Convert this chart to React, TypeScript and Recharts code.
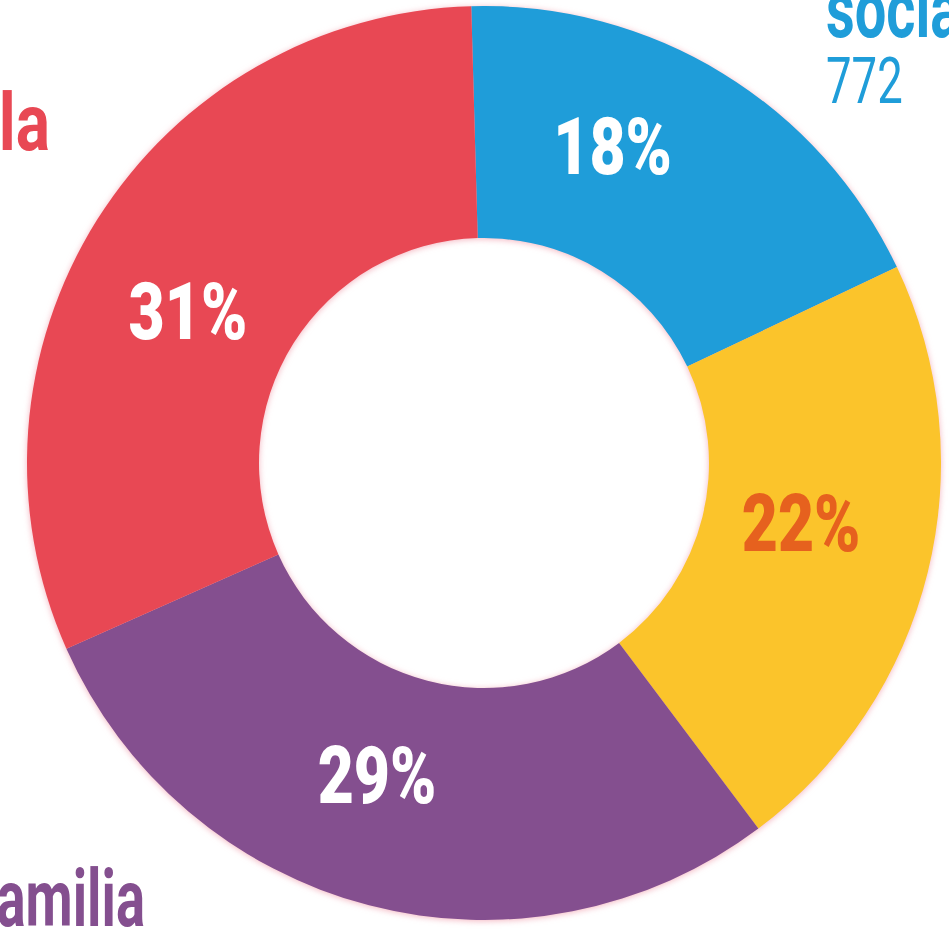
import React from 'react';
import { PieChart, Pie, Cell } from 'recharts';

const categories = ['Vida social', 'Ocio', 'Familia', 'Escuela'];
const counts = [772, 915, 1200, 1310];
const sliceColors = ['#1F9DD9', '#FBC42B', '#844F8F', '#E84854'];
const percentColors = ['#FFFFFF', '#E6611E', '#FFFFFF', '#FFFFFF'];

const total = counts.reduce((a, b) => a + b, 0);
const data = categories.map((name, i) => ({
  name,
  value: counts[i],
  pct: `${Math.round((counts[i] / total) * 100)}%`,
}));

const RAD = Math.PI / 180;
// small tweaks (angle, radius) so labels sit where the original put them
const labelNudge = [
  [9, 336],
  [2, 324],
  [-4, 336],
  [6, 330],
];

const renderPct = (props: any) => {
  const { cx, cy, midAngle, index } = props;
  const [da, r] = labelNudge[index];
  const a = (midAngle + da) * RAD;
  const x = cx + r * Math.cos(a);
  const y = cy - r * Math.sin(a) - 6;
  return (
    <text
      transform={`translate(${x},${y}) scale(0.78,1)`}
      textAnchor="middle"
      dominantBaseline="central"
      fill={percentColors[index]}
      fontFamily="Roboto, sans-serif"
      fontWeight={900}
      fontSize={80}
    >
      {data[index].pct}
    </text>
  );
};

const nameStyle = {
  fontFamily: 'Roboto, sans-serif',
  fontWeight: 700,
  fontSize: 80,
};

export default function App() {
  return (
    <div style={{ position: 'absolute', left: 0, top: 0, width: 949, height: 937, background: '#fff', overflow: 'hidden' }}>
      <style>{`.recharts-pie { filter: drop-shadow(0 1px 3px rgba(235, 120, 140, 0.55)); }`}</style>
      <PieChart width={949} height={937} margin={{ top: 0, right: 0, bottom: 0, left: 0 }}>
        <Pie
          data={data}
          dataKey="value"
          cx={484}
          cy={463}
          innerRadius={225}
          outerRadius={457}
          startAngle={91.6}
          endAngle={-268.4}
          stroke="none"
          label={renderPct}
          labelLine={false}
          isAnimationActive={false}
        >
          {data.map((d, i) => (
            <Cell key={d.name} fill={sliceColors[i]} />
          ))}
        </Pie>
      </PieChart>
      <svg width={949} height={937} style={{ position: 'absolute', left: 0, top: 0, pointerEvents: 'none' }}>
        <text transform="translate(826,37) scale(0.7,1)" fill={sliceColors[0]} {...nameStyle}>
          social
        </text>
        <text
          transform="translate(826,103) scale(0.7,1)"
          fill={sliceColors[0]}
          fontFamily="Roboto, sans-serif"
          fontWeight={400}
          fontSize={65}
        >
          {counts[0]}
        </text>
        <text transform="translate(50,150) scale(0.8,1)" textAnchor="end" fill={sliceColors[3]} {...nameStyle}>
          Escuela
        </text>
        <text transform="translate(145,926) scale(0.68,1)" textAnchor="end" fill={sliceColors[2]} {...nameStyle}>
          Familia
        </text>
      </svg>
    </div>
  );
}
